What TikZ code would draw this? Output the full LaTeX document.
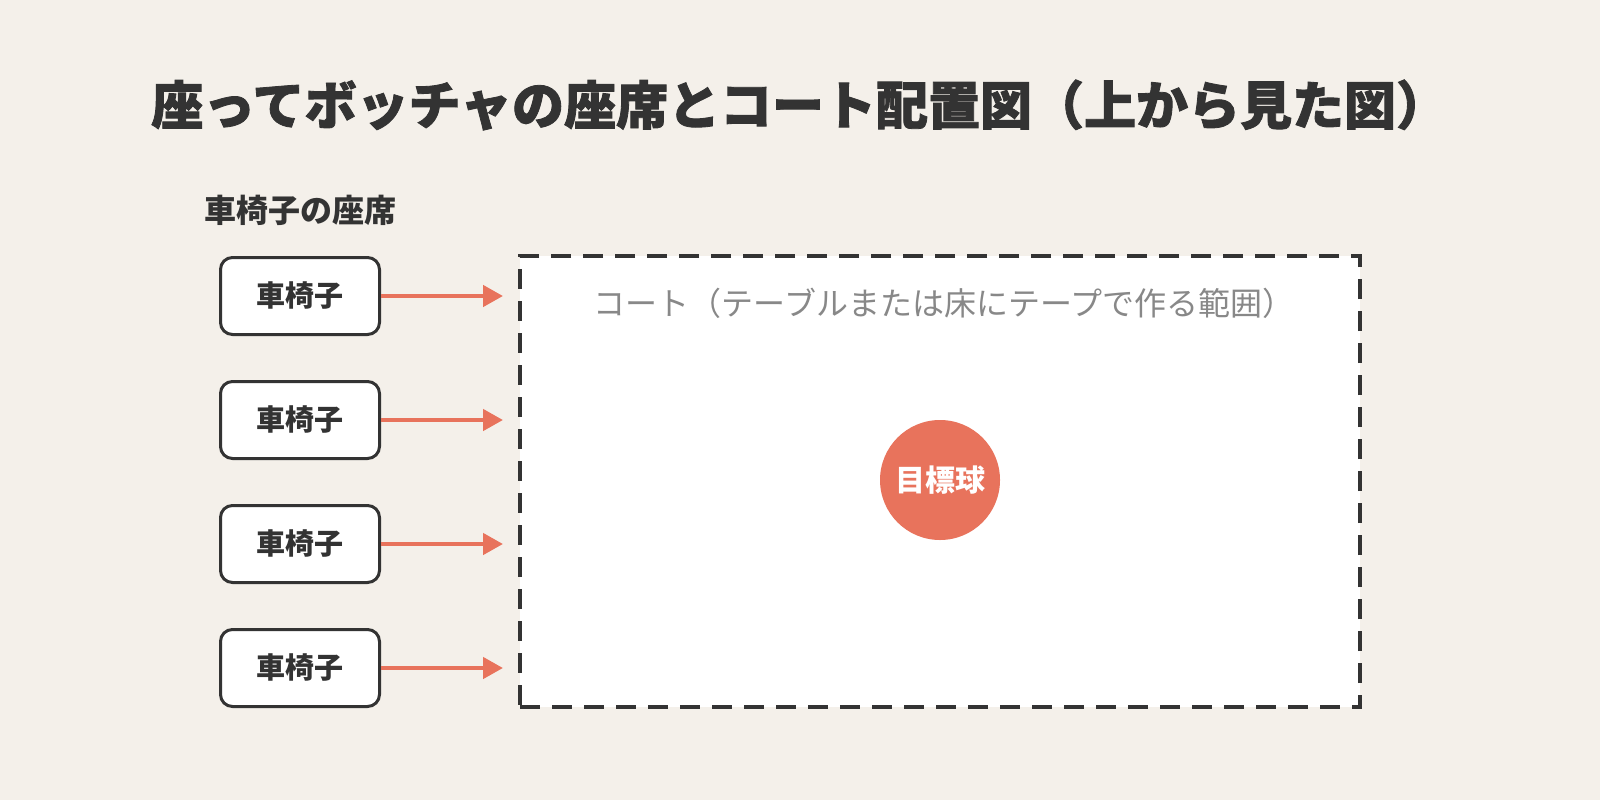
\documentclass[tikz,border=0pt]{standalone}
\usepackage{fontspec}
\setmainfont{Noto Sans CJK JP}
\newfontfamily\titlefont[FakeBold=1.6]{Noto Sans CJK JP Black}
\usetikzlibrary{arrows.meta,positioning}
\definecolor{bgbeige}{HTML}{F4F0EA}
\definecolor{coral}{HTML}{E8735C}
\definecolor{inkdark}{HTML}{333333}
\definecolor{labelgray}{HTML}{888888}

\begin{document}
\begin{tikzpicture}[x=1pt,y=-1pt,
  seat/.style={draw=inkdark,line width=3pt,fill=white,rounded corners=12pt,minimum width=159pt,minimum height=77pt,inner sep=0pt,font=\fontsize{29}{34}\selectfont\bfseries,text=inkdark},
  toward/.style={draw=coral,line width=4.5pt,-{Triangle[length=20pt,width=21pt]}}]
\fill[bgbeige] (0,0) rectangle (1600,800);
\useasboundingbox (0,0) rectangle (1600,800);

\node[anchor=west,inner sep=0pt,text=inkdark,font=\titlefont\fontsize{52}{60}\selectfont] (title) at (151,105) {座ってボッチャの座席とコート配置図（上から見た図）};
\node[anchor=west,inner sep=0pt,text=inkdark,font=\fontsize{32}{38}\selectfont\bfseries] (seatshead) at (204,210) {車椅子の座席};

\node[draw=inkdark,line width=4pt,dash pattern=on 20pt off 12pt,fill=white,minimum width=840pt,minimum height=451pt,inner sep=0pt] (court) at (940,481.5) {};
\node[text=labelgray,font=\fontsize{32}{38}\selectfont] (courtlabel) at (944,303) {コート（テーブルまたは床にテープで作る範囲）};
\node[circle,fill=coral,minimum size=120pt,inner sep=0pt,text=white,font=\fontsize{30}{36}\selectfont\bfseries] (target) at (940,480) {目標球};

\node[seat] (s1) at (300,296) {車椅子};
\node[seat] (s2) at (300,420) {車椅子};
\node[seat] (s3) at (300,544) {車椅子};
\node[seat] (s4) at (300,668) {車椅子};

\coordinate (t1) at (503,296);
\coordinate (t2) at (503,420);
\coordinate (t3) at (503,544);
\coordinate (t4) at (503,668);

\path[toward] (s1) -- (t1);
\path[toward] (s2) -- (t2);
\path[toward] (s3) -- (t3);
\path[toward] (s4) -- (t4);
\end{tikzpicture}
\end{document}
